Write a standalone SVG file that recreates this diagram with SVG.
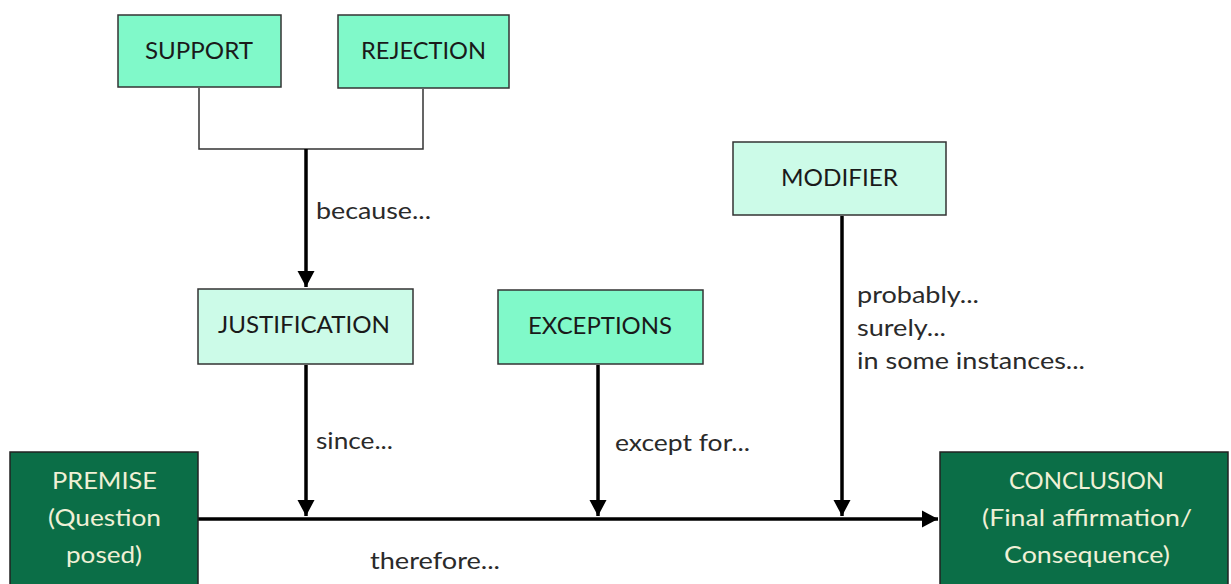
<svg xmlns="http://www.w3.org/2000/svg" width="1231" height="584" viewBox="0 0 1231 584">
<style>
.box{stroke:#333;stroke-width:1.5}
.b1{fill:#80f9c9}
.b2{fill:#ccfbe8}
.b3{fill:#0b6e47;stroke:#222}
.t{font-family:Lato,"Open Sans","Liberation Sans",sans-serif;font-size:23px;fill:#1a1a1a}
.tw{font-family:Lato,"Open Sans","Liberation Sans",sans-serif;font-size:23px;fill:#f0f0d6}
.lab{font-family:Lato,"Open Sans","Liberation Sans",sans-serif;font-size:23px;fill:#2a2a2a}
.thin{fill:none;stroke:#333;stroke-width:1.5}
.thick{fill:none;stroke:#000;stroke-width:3.5}
</style>
<defs>
<marker id="ah" markerUnits="userSpaceOnUse" markerWidth="17" markerHeight="18" viewBox="0 0 17 18" refX="16" refY="9" orient="auto">
<path d="M0,0.5 L16,9 L0,17.5 Z" fill="#000"/>
</marker>
</defs>
<rect width="1231" height="584" fill="#fff"/>
<g id="connectors">
<polyline class="thin" points="199,88 199,149 423,149 423,89"/>
<line class="thick" x1="306" y1="149" x2="306" y2="287" marker-end="url(#ah)"/>
<line class="thick" x1="306" y1="365" x2="306" y2="516" marker-end="url(#ah)"/>
<line class="thick" x1="598" y1="365" x2="598" y2="516" marker-end="url(#ah)"/>
<line class="thick" x1="842" y1="216" x2="842" y2="516" marker-end="url(#ah)"/>
<line class="thick" x1="198" y1="519" x2="938" y2="519" marker-end="url(#ah)"/>
<text class="lab" x="316" y="219" textLength="115" lengthAdjust="spacingAndGlyphs">because...</text>
<text class="lab" x="316" y="449" textLength="77" lengthAdjust="spacingAndGlyphs">since...</text>
<text class="lab" x="615" y="451" textLength="135" lengthAdjust="spacingAndGlyphs">except for...</text>
<text class="lab" x="857" y="303" textLength="122" lengthAdjust="spacingAndGlyphs">probably...</text>
<text class="lab" x="857" y="336" textLength="89" lengthAdjust="spacingAndGlyphs">surely...</text>
<text class="lab" x="857" y="369" textLength="228" lengthAdjust="spacingAndGlyphs">in some instances...</text>
<text class="lab" x="370" y="569" textLength="130" lengthAdjust="spacingAndGlyphs">therefore...</text>
</g>
<g id="support">
<rect class="box b1" x="118" y="15" width="163" height="72"/>
<text class="t" x="145" y="59" textLength="108" lengthAdjust="spacingAndGlyphs">SUPPORT</text>
</g>
<g id="rejection">
<rect class="box b1" x="338" y="15" width="171" height="73"/>
<text class="t" x="361" y="59" textLength="125" lengthAdjust="spacingAndGlyphs">REJECTION</text>
</g>
<g id="justification">
<rect class="box b2" x="198" y="289" width="215" height="75"/>
<text class="t" x="218" y="333" textLength="172" lengthAdjust="spacingAndGlyphs">JUSTIFICATION</text>
</g>
<g id="exceptions">
<rect class="box b1" x="498" y="290" width="205" height="74"/>
<text class="t" x="528" y="334" textLength="144" lengthAdjust="spacingAndGlyphs">EXCEPTIONS</text>
</g>
<g id="modifier">
<rect class="box b2" x="733" y="142" width="213" height="73"/>
<text class="t" x="781" y="186" textLength="117" lengthAdjust="spacingAndGlyphs">MODIFIER</text>
</g>
<g id="premise">
<rect class="box b3" x="10" y="452" width="188" height="140"/>
<text class="tw" x="52" y="489" textLength="105" lengthAdjust="spacingAndGlyphs">PREMISE</text>
<text class="tw" x="48" y="526" textLength="113" lengthAdjust="spacingAndGlyphs">(Question</text>
<text class="tw" x="66" y="563" textLength="76" lengthAdjust="spacingAndGlyphs">posed)</text>
</g>
<g id="conclusion">
<rect class="box b3" x="940" y="452" width="288" height="140"/>
<text class="tw" x="1009" y="489" textLength="155" lengthAdjust="spacingAndGlyphs">CONCLUSION</text>
<text class="tw" x="982" y="526" textLength="210" lengthAdjust="spacingAndGlyphs">(Final affirmation/</text>
<text class="tw" x="1004" y="563" textLength="166" lengthAdjust="spacingAndGlyphs">Consequence)</text>
</g>
</svg>
